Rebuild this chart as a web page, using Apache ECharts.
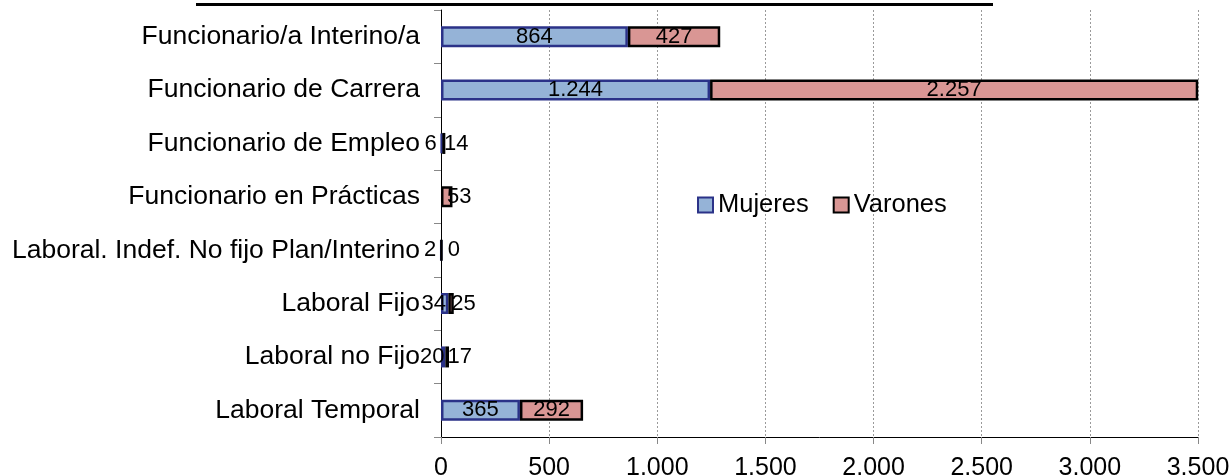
<!DOCTYPE html>
<html>
<head>
<meta charset="utf-8">
<script src="https://cdn.jsdelivr.net/npm/echarts@6/dist/echarts.min.js"></script>
<style>
  html, body { margin: 0; padding: 0; background: #fff; }
  #chart { width: 1230px; height: 475px; }
</style>
</head>
<body>
<div id="chart"></div>
<script>
// Personal por tipo de relación y sexo
const categories = [
  'Funcionario/a Interino/a',
  'Funcionario de Carrera',
  'Funcionario de Empleo',
  'Funcionario en Prácticas',
  'Laboral. Indef. No fijo Plan/Interino',
  'Laboral Fijo',
  'Laboral no Fijo',
  'Laboral Temporal'
];
const mujeres = [864, 1244, 6, null, 2, 34, 20, 365];
const varones = [427, 2257, 14, 53, 0, 25, 17, 292];
const xTicks = [0, 500, 1000, 1500, 2000, 2500, 3000, 3500];

const FONT = '"Liberation Sans", Arial, sans-serif';
const fmtNum = v => String(Math.round(v)).replace(/\B(?=(\d{3})+(?!\d))/g, '.');

// short bars get their labels pushed outside the bar
function items(values, side) {
  return values.map((v, i) => {
    if (v === null) return { value: null };
    const total = (mujeres[i] || 0) + (varones[i] || 0);
    const item = { value: v };
    if (total < 150) {
      item.label = { offset: [side < 0 ? -11 : 12.5, 0] };
    }
    return item;
  });
}

const labelStyle = {
  show: true,
  position: 'inside',
  color: '#000',
  fontFamily: FONT,
  fontSize: 22,
  formatter: p => fmtNum(p.value)
};

const chart = echarts.init(document.getElementById('chart'), null, { renderer: 'canvas' });
chart.setOption({
  animation: false,
  backgroundColor: '#fff',
  grid: {
    left: 441, right: 32, top: 10, bottom: 38,
    containLabel: false, outerBoundsMode: 'none'
  },
  legend: {
    data: ['Mujeres', 'Varones'],
    left: 692, top: 187,
    itemWidth: 15, itemHeight: 15, itemGap: 24,
    icon: 'rect',
    textStyle: { fontFamily: FONT, fontSize: 25.5, color: '#000' }
  },
  xAxis: {
    type: 'value',
    min: 0, max: 3500, interval: 500,
    axisLine: { show: true, lineStyle: { color: '#000', width: 1 } },
    axisTick: { show: true, length: 7, lineStyle: { color: '#888' } },
    axisLabel: {
      color: '#000', fontFamily: FONT, fontSize: 25, margin: 19,
      formatter: v => xTicks.includes(v) ? fmtNum(v) : ''
    },
    splitLine: { show: true, lineStyle: { color: '#9a9a9a', type: [2, 2], width: 1 } }
  },
  yAxis: {
    type: 'category',
    data: categories,
    inverse: true,
    axisLine: { show: true, lineStyle: { color: '#000', width: 1 } },
    axisTick: { show: true, length: 7, lineStyle: { color: '#888' } },
    axisLabel: { color: '#000', fontFamily: FONT, fontSize: 26.5, margin: 21 },
    splitLine: { show: false }
  },
  series: [
    {
      name: 'Mujeres', type: 'bar', stack: 'total', barWidth: 21,
      data: items(mujeres, -1),
      itemStyle: { color: '#95B3D7', borderColor: '#2B3288', borderWidth: 2.5 },
      label: labelStyle
    },
    {
      name: 'Varones', type: 'bar', stack: 'total', barWidth: 21,
      data: items(varones, 1),
      itemStyle: { color: '#D99694', borderColor: '#000', borderWidth: 2.5 },
      label: labelStyle
    }
  ],
  graphic: [
    { type: 'rect', left: 196, top: 3, shape: { width: 797, height: 3 }, style: { fill: '#000' } }
  ]
});
</script>
</body>
</html>
